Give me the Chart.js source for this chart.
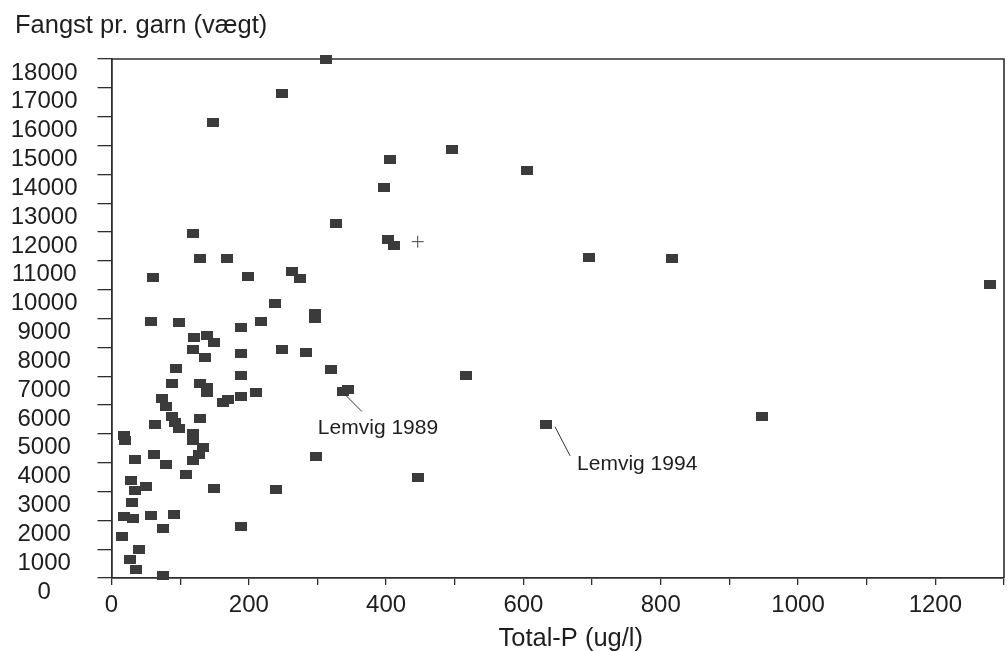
<!DOCTYPE html>
<html>
<head>
<meta charset="utf-8">
<script src="https://cdn.jsdelivr.net/npm/chart.js@4.4.1/dist/chart.umd.min.js"></script>
<style>
    html, body { margin: 0; padding: 0; background: #fff; }
    #wrap { width: 1007px; height: 651px; }
</style>
</head>
<body>
<div id="wrap"><canvas id="chart" width="1007" height="651"></canvas></div>
<script>
// Data
const totalP = [
    313, 248, 148, 496, 406, 605, 397, 327, 118, 403, 412, 129, 168, 695, 816,
    60, 199, 263, 274, 1279, 238, 297, 297, 57, 99, 218, 188, 120, 139, 149,
    119, 136, 189, 248, 284, 319, 94, 188, 516, 88, 129, 139, 139, 210, 188,
    337, 345, 162, 170, 74, 80, 88, 92, 99, 129, 63, 947, 633, 18, 19,
    118, 118, 134, 128, 119, 62, 34, 79, 298, 109, 447, 29, 34, 50, 149,
    239, 30, 18, 31, 57, 91, 75, 188, 15, 40, 27, 35, 75
];
const fangst = [
    18000, 16800, 15800, 14850, 14500, 14150, 13550, 12300, 11950, 11730, 11530, 11070, 11070, 11130, 11080,
    10420, 10440, 10620, 10380, 10170, 9510, 9190, 8990, 8890, 8850, 8900, 8690, 8350, 8420, 8170,
    7920, 7650, 7800, 7920, 7830, 7230, 7280, 7030, 7040, 6760, 6740, 6620, 6430, 6450, 6300,
    6470, 6530, 6070, 6180, 6210, 5950, 5600, 5380, 5180, 5520, 5340, 5610, 5310, 4950, 4780,
    5000, 4760, 4510, 4280, 4070, 4280, 4100, 3920, 4220, 3580, 3470, 3380, 3040, 3180, 3100,
    3060, 2620, 2120, 2060, 2160, 2200, 1700, 1790, 1440, 980, 650, 290, 90
];

// the small "+" mark
const crossP = [446];
const crossFangst = [11665];

// labelled points
const noteText = ['Lemvig 1989', 'Lemvig 1994'];
const noteP = [337, 633];
const noteFangst = [6470, 5310];

const xMax = 1300;
const yMax = 18000;

const FONT = "'Liberation Sans', Arial, sans-serif";
const INK = '#2e2e2e';

// Rectangular marker like the original plot
function makeMarker() {
    const c = document.createElement('canvas');
    c.width = 12;
    c.height = 9;
    const g = c.getContext('2d');
    g.fillStyle = '#3b3b3b';
    g.fillRect(0, 0, 12, 9);
    return c;
}

const points = totalP.map((x, i) => ({ x: x, y: fangst[i] }));
const crosses = crossP.map((x, i) => ({ x: x, y: crossFangst[i] }));

// Frame, titles and the two callouts
const extras = {
    id: 'extras',
    beforeDatasetsDraw(chart) {
        const a = chart.chartArea;
        const ctx = chart.ctx;
        ctx.save();
        ctx.strokeStyle = INK;
        ctx.lineWidth = 1.6;
        ctx.beginPath();
        ctx.moveTo(a.left, a.top);
        ctx.lineTo(a.right, a.top);
        ctx.lineTo(a.right, a.bottom);
        ctx.stroke();
        ctx.restore();
    },
    afterDraw(chart) {
        const ctx = chart.ctx;
        const a = chart.chartArea;
        const xs = chart.scales.x;
        const ys = chart.scales.y;
        ctx.save();
        ctx.fillStyle = '#1e1e1e';
        ctx.textBaseline = 'middle';

        ctx.font = '25.5px ' + FONT;
        ctx.textAlign = 'left';
        ctx.fillText('Fangst pr. garn (vægt)', 15, 26);

        ctx.textAlign = 'center';
        ctx.fillText('Total-P (ug/l)', (a.left + a.right) / 2 + 13, 639);

        // callouts: leader line then label
        ctx.font = '21px ' + FONT;
        ctx.textAlign = 'left';
        ctx.strokeStyle = '#333';
        ctx.lineWidth = 1;
        const lines = [[2, 3, 19, 20, -25, 37], [9, 2, 24, 31, 31, 39]];
        noteText.forEach((t, i) => {
            const px = xs.getPixelForValue(noteP[i]);
            const py = ys.getPixelForValue(noteFangst[i]);
            const o = lines[i];
            ctx.beginPath();
            ctx.moveTo(px + o[0], py + o[1]);
            ctx.lineTo(px + o[2], py + o[3]);
            ctx.stroke();
            ctx.fillText(t, px + o[4], py + o[5]);
        });
        ctx.restore();
    }
};

new Chart(document.getElementById('chart'), {
    type: 'scatter',
    data: {
        datasets: [
            {
                label: 'Fangst',
                data: points,
                pointStyle: makeMarker(),
                clip: false
            },
            {
                label: 'cross',
                data: crosses,
                pointStyle: 'cross',
                pointRadius: 6,
                borderColor: '#444',
                borderWidth: 1,
                clip: false
            }
        ]
    },
    options: {
        responsive: false,
        animation: false,
        layout: {
            autoPadding: false,
            padding: { left: 10, top: 59, right: 3, bottom: 0 }
        },
        plugins: {
            legend: { display: false },
            tooltip: { enabled: false },
            title: { display: false }
        },
        scales: {
            x: {
                type: 'linear',
                min: 0,
                max: xMax,
                afterFit: s => {
                    s.height = 73;
                    s.paddingLeft = 0;
                    s.paddingRight = 0;
                },
                afterBuildTicks: s => {
                    s.ticks = [];
                    for (let v = 0; v <= xMax; v += 100) s.ticks.push({ value: v });
                },
                grid: {
                    drawOnChartArea: false,
                    drawTicks: true,
                    tickLength: 7,
                    color: INK,
                    lineWidth: 1.3
                },
                border: { display: true, color: INK, width: 1.8 },
                ticks: {
                    autoSkip: false,
                    maxRotation: 0,
                    padding: 6,
                    color: '#1e1e1e',
                    font: { family: FONT, size: 24 },
                    callback: v => (v % 200 === 0 ? String(v) : '')
                }
            },
            y: {
                type: 'linear',
                min: 0,
                max: yMax,
                afterFit: s => { s.width = 101.5; },
                grid: {
                    drawOnChartArea: false,
                    drawTicks: true,
                    tickLength: 14,
                    color: INK,
                    lineWidth: 1.3
                },
                border: { display: true, color: INK, width: 1.8 },
                ticks: {
                    stepSize: 1000,
                    autoSkip: false,
                    padding: 20,
                    crossAlign: 'center',
                    labelOffset: 14,
                    color: '#1e1e1e',
                    font: { family: FONT, size: 24 },
                    callback: v => String(v)
                }
            }
        }
    },
    plugins: [extras]
});
</script>
</body>
</html>
